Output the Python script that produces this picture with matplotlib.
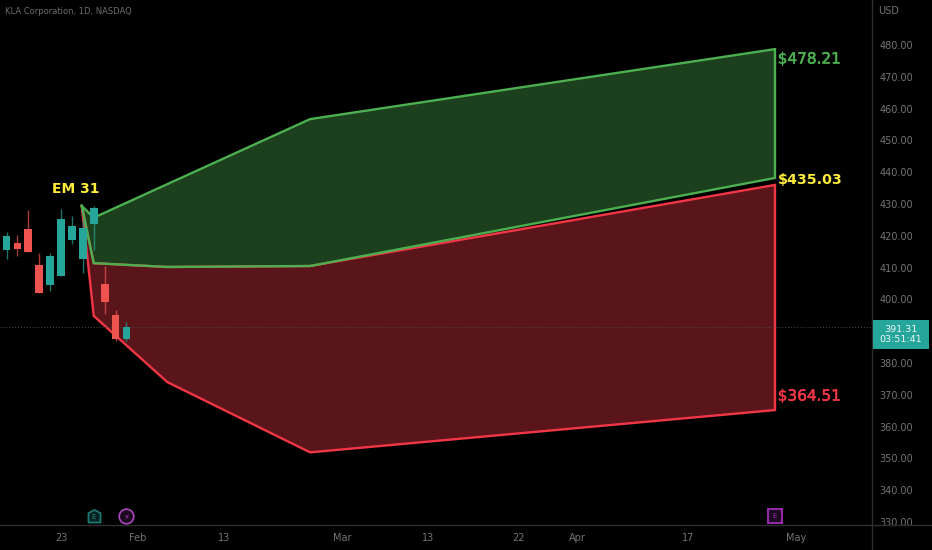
import matplotlib
matplotlib.use('Agg')
import matplotlib.pyplot as plt
import matplotlib.patheffects as pe
from matplotlib.path import Path

# candles, index 0 is 23 Jan, trading days only
bar_idx = [-6, -5, -4, -3, -2, -1, 0, 1, 2, 3, 4, 5, 6]
opens = [414.0, 415.5, 417.7, 422.1, 410.8, 404.5, 407.5, 418.7, 412.6, 423.7, 404.8, 395.2, 387.6]
highs = [420.5, 421.1, 420.3, 428.1, 414.7, 414.5, 428.4, 426.2, 425.0, 429.4, 410.5, 396.7, 392.8]
lows = [412.0, 412.6, 413.6, 414.9, 401.9, 402.6, 407.5, 417.4, 408.4, 415.5, 395.4, 387.0, 387.0]
closes = [419.5, 419.9, 415.8, 414.9, 401.9, 413.6, 425.4, 423.1, 422.5, 428.8, 399.3, 387.6, 391.31]

# expected move areas
green_x = [1.9, 3, 22.85, 65.5, 65.5, 22.85, 9.75, 3, 1.9]
green_y = [429.4, 425.7, 456.7, 478.7, 438.2, 410.5, 410.2, 411.4, 429.4]
red_x = [1.9, 3, 9.75, 22.85, 65.5, 65.5, 22.85, 9.75, 3, 1.9]
red_y = [429.4, 394.8, 374.0, 351.9, 365.2, 436.0, 410.5, 410.2, 411.4, 429.4]

price_ticks = [330, 340, 350, 360, 370, 380, 400, 410, 420, 430, 440, 450, 460, 470, 480]
date_pos = [0, 7, 15, 25.8, 33.7, 42, 47.4, 57.5, 67.4]
date_labels = ['23', 'Feb', '13', 'Mar', '13', '22', 'Apr', '17', 'May']
last_price = 391.31

UP = '#26a69a'
DOWN = '#ef5350'
GRID = '#2e2e2e'
TXT = '#747474'

W, H = 932, 550
fig = plt.figure(figsize=[9.32, 5.5], dpi=100, facecolor='black')
ax = fig.add_axes([0, 25 / H, 872 / W, 525 / H])
ax.set_facecolor('black')
ax.set_xlim(-5.6, 74.4)
ax.set_ylim(329.06, 494.15)

for s in ['top', 'left']:
    ax.spines[s].set_visible(False)
for s in ['right', 'bottom']:
    ax.spines[s].set_visible(False)

# areas
ax.fill(red_x, red_y, color='#5a151b', lw=0, zorder=1)
ax.fill(green_x, green_y, color='#1c3f1e', lw=0, zorder=1.5)
ax.plot(red_x, red_y, color='#f23645', lw=1.7, zorder=2, solid_joinstyle='miter')
ax.plot(green_x, green_y, color='#4caf50', lw=1.7, zorder=2.5, solid_joinstyle='miter')

# last price line
ax.axhline(last_price, color='#4a4a4a', lw=0.7, ls=(0, (1, 2)), zorder=2.6)

# candles
for i in range(len(bar_idx)):
    c = UP if closes[i] >= opens[i] else DOWN
    ax.vlines(bar_idx[i], lows[i], highs[i], color=c, lw=1, alpha=0.7, zorder=3)
    ax.bar(bar_idx[i], abs(closes[i] - opens[i]), bottom=min(opens[i], closes[i]),
           width=0.72, color=c, lw=0, zorder=4)

# labels on chart
medium = [pe.withStroke(linewidth=0.4, foreground='#4caf50')]
ax.text(1.35, 432.6, 'EM 31', color='#ffeb3b', fontsize=10, fontweight='bold',
        ha='center', va='bottom', zorder=5)
ax.text(65.75, 475.6, '$478.21', color='#4caf50', fontsize=11, va='center', path_effects=medium)
ax.text(65.75, 437.5, '$435.03', color='#ffeb3b', fontsize=10.3, fontweight='bold', va='center')
ax.text(65.75, 369.6, '$364.51', color='#f23645', fontsize=11, va='center',
        path_effects=[pe.withStroke(linewidth=0.4, foreground='#f23645')])

# axes
ax.yaxis.tick_right()
ax.set_yticks(price_ticks)
ax.set_yticklabels(['%.2f' % p for p in price_ticks], color=TXT, fontsize=7)
ax.tick_params(axis='y', length=0, pad=5.5)
ax.set_xticks(date_pos)
ax.set_xticklabels(date_labels, color=TXT, fontsize=7)
ax.tick_params(axis='x', length=0, pad=6)

# strip below the chart hides the foot of the 330 label, then the frame lines
fig.patches.append(plt.Rectangle((872 / W, 0), 60 / W, 25 / H, transform=fig.transFigure,
                                 fc='black', ec='none', zorder=1))
fig.add_artist(plt.Line2D([0, 1], [25 / H, 25 / H], color=GRID, lw=1, zorder=2))
fig.add_artist(plt.Line2D([872 / W, 872 / W], [0, 1], color=GRID, lw=1, zorder=2))

fig.text(878 / W, 1 - 11 / H, 'USD', color=TXT, fontsize=7, va='center')
fig.text(5 / W, 1 - 11 / H, 'KLA Corporation, 1D, NASDAQ', color='#6e6e6e', fontsize=6, va='center')

# price label box
fig.patches.append(plt.Rectangle((873 / W, 1 - 349 / H), 56 / W, 29 / H, transform=fig.transFigure,
                                 fc=UP, ec='none', zorder=3))
fig.text(900.5 / W, 1 - 334.5 / H, '391.31\n03:51:41', color='#eef8f6', fontsize=6.8,
         ha='center', va='center', linespacing=1.25, zorder=4)

# event markers along the bottom
marks = ax.get_xaxis_transform()
house = Path([(-1, -1), (1, -1), (1, 0.55), (0, 1.1), (-1, 0.55), (-1, -1)], closed=True)
ax.plot(3, 0.0165, marker=house, ms=9.5, mfc='#07211f', mec='#1d7a72', mew=1.3, transform=marks, clip_on=False, zorder=6)
ax.text(3, 0.0155, 'E', transform=marks, color='#1d8a80', fontsize=5, ha='center', va='center', zorder=7)
ax.plot(6, 0.0165, marker='o', ms=10.5, mfc='#1c0b20', mec='#ab47bc', mew=1.2, transform=marks, clip_on=False, zorder=6)
ax.text(6, 0.0165, '\u26a1', transform=marks, color='#ab47bc', fontsize=6, ha='center', va='center', zorder=7)
ax.plot(65.5, 0.0165, marker='s', ms=9.5, mfc='#1c0b20', mec='#9c27b0', mew=1.4, transform=marks, clip_on=False, zorder=6)
ax.text(65.5, 0.0165, 'E', transform=marks, color='#9c27b0', fontsize=5, ha='center', va='center', zorder=7)

fig.savefig('out.png', dpi=100, facecolor='black')
